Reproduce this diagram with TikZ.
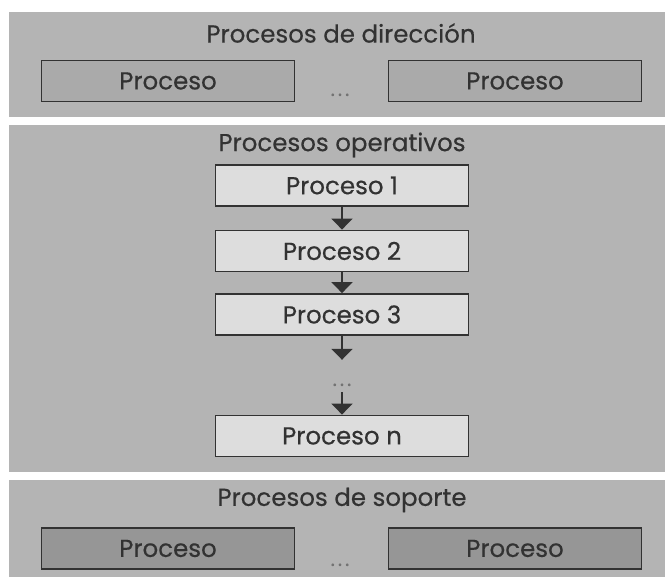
\documentclass[tikz,border=0pt]{standalone}
\usepackage{fontspec}
\setmainfont{Poppins}[FakeBold=0.4]
\usetikzlibrary{arrows.meta}

\definecolor{banda}{RGB}{180,180,180}
\definecolor{cajadir}{RGB}{170,170,170}
\definecolor{cajaop}{RGB}{221,221,221}
\definecolor{cajasop}{RGB}{150,150,150}
\definecolor{tinta}{RGB}{50,50,50}

\begin{document}
\begin{tikzpicture}[x=1pt,y=-1pt,
    font=\fontsize{24.5}{28}\selectfont, text=tinta,
    caja/.style={draw=tinta, line width=1.8pt, minimum width=253pt,
      minimum height=41pt, inner sep=0pt},
    puntos/.style={text=black!55, font=\fontsize{20}{22}\selectfont, inner sep=0pt},
    flecha/.style={draw=tinta, line width=1.8pt,
      -{Triangle[width=21pt,length=11pt]}}]
  \useasboundingbox (0,0) rectangle (665,577);
  % franjas de fondo
  \fill[banda] (8.5,12.5) rectangle (665,117);
  \fill[banda] (8.5,125) rectangle (665,472);
  \fill[banda] (8.5,480) rectangle (665,577);

  % direccion
  \node (tdir) at (341,33) {Procesos de dirección};
  \node (d1) at (168,81) [caja, fill=cajadir] {Proceso};
  \node (d2) at (515,81) [caja, fill=cajadir] {Proceso};
  \node (ddir) at (340,96) [puntos, anchor=base] {.\kern3pt.\kern3pt.};

  % operativos
  \node (top) at (342,145) {Procesos operativos};
  \node (p1) at (342,185.5) [caja, fill=cajaop] {Proceso 1};
  \node (p2) at (342,251) [caja, fill=cajaop] {Proceso 2};
  \node (p3) at (342,314.5) [caja, fill=cajaop] {Proceso 3};
  \node (pd) at (342,376) [puntos, text height=26pt, text depth=6pt] {.\kern3pt.\kern3pt.};
  \node (pn) at (342,436) [caja, fill=cajaop] {Proceso n};
  \draw[flecha] (p1) -- (p2);
  \draw[flecha] (p2) -- (p3);
  \draw[flecha] (p3) -- (pd.north);
  \draw[flecha] (pd.south) -- (pn);

  % soporte
  \node (tsop) at (342,500) {Procesos de soporte};
  \node (s1) at (168,548.5) [caja, fill=cajasop] {Proceso};
  \node (s2) at (515,548.5) [caja, fill=cajasop] {Proceso};
  \node (dsop) at (340,566) [puntos, anchor=base] {.\kern3pt.\kern3pt.};
\end{tikzpicture}
\end{document}
